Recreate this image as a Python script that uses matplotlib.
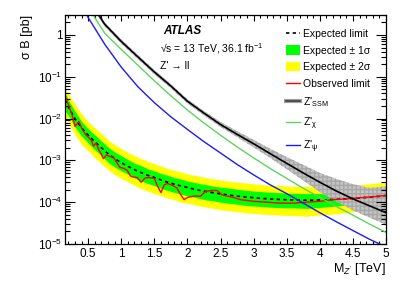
import matplotlib
matplotlib.use("Agg")
import matplotlib.pyplot as plt
from matplotlib.lines import Line2D
from matplotlib.patches import Patch
from matplotlib.ticker import MultipleLocator, LogLocator, NullFormatter

plt.rcParams['font.family'] = ['Liberation Sans', 'DejaVu Sans']
plt.rcParams['mathtext.fontset'] = 'custom'
plt.rcParams['mathtext.rm'] = 'Liberation Sans'
plt.rcParams['mathtext.it'] = 'Liberation Sans:italic'
plt.rcParams['mathtext.bf'] = 'Liberation Sans:bold'

# expected limit and bands [pb] vs mass [TeV]
mass = [0.15, 0.2, 0.3, 0.4, 0.5, 0.6, 0.7, 0.8, 0.9, 1.0,
        1.1, 1.2, 1.3, 1.4, 1.5, 1.6, 1.7, 1.8, 1.9, 2.0,
        2.1, 2.2, 2.3, 2.4, 2.5, 2.6, 2.7, 2.8, 2.9, 3.0,
        3.1, 3.2, 3.3, 3.4, 3.5, 3.6, 3.7, 3.8, 3.9, 4.0,
        4.1, 4.2, 4.3, 4.4, 4.5, 4.6, 4.7, 4.8, 4.9, 5.0]
expected = [2.8e-2, 1.9e-2, 1.0e-2, 6.0e-3, 4.0e-3, 2.8e-3, 2.0e-3, 1.45e-3, 1.1e-3, 8.8e-4,
            7.2e-4, 6.0e-4, 5.1e-4, 4.4e-4, 3.9e-4, 3.4e-4, 3.0e-4, 2.7e-4, 2.45e-4, 2.25e-4,
            2.05e-4, 1.9e-4, 1.78e-4, 1.67e-4, 1.58e-4, 1.5e-4, 1.43e-4, 1.37e-4, 1.32e-4, 1.28e-4,
            1.24e-4, 1.21e-4, 1.18e-4, 1.16e-4, 1.14e-4, 1.13e-4, 1.12e-4, 1.12e-4, 1.12e-4, 1.13e-4,
            1.14e-4, 1.16e-4, 1.18e-4, 1.2e-4, 1.23e-4, 1.26e-4, 1.3e-4, 1.34e-4, 1.38e-4, 1.45e-4]
minus2 = [1.1e-2, 8.0e-3, 4.2e-3, 2.4e-3, 1.7e-3, 1.15e-3, 8.5e-4, 6.0e-4, 4.6e-4, 3.7e-4,
          3.1e-4, 2.5e-4, 2.1e-4, 1.85e-4, 1.6e-4, 1.45e-4, 1.25e-4, 1.15e-4, 1.0e-4, 9.5e-5,
          8.8e-5, 8.0e-5, 7.5e-5, 7.1e-5, 6.6e-5, 6.3e-5, 6.1e-5, 5.8e-5, 5.5e-5, 5.4e-5,
          5.2e-5, 5.1e-5, 5.0e-5, 4.9e-5, 4.8e-5, 4.8e-5, 4.7e-5, 4.6e-5, 4.8e-5, 4.9e-5,
          5.0e-5, 5.2e-5, 5.4e-5, 5.6e-5, 5.9e-5, 6.2e-5, 6.5e-5, 6.9e-5, 7.3e-5, 7.8e-5]
minus1 = [1.5e-2, 1.2e-2, 6.3e-3, 3.8e-3, 2.6e-3, 1.8e-3, 1.3e-3, 9.0e-4, 7.0e-4, 5.6e-4,
          4.7e-4, 3.8e-4, 3.2e-4, 2.8e-4, 2.5e-4, 2.15e-4, 1.9e-4, 1.72e-4, 1.55e-4, 1.42e-4,
          1.32e-4, 1.2e-4, 1.12e-4, 1.07e-4, 1.0e-4, 9.5e-5, 9.1e-5, 8.7e-5, 8.3e-5, 8.1e-5,
          7.9e-5, 7.7e-5, 7.5e-5, 7.4e-5, 7.3e-5, 7.3e-5, 7.2e-5, 7.1e-5, 7.3e-5, 7.5e-5,
          7.7e-5, 8.0e-5, 8.3e-5, 8.6e-5, 9.0e-5, 9.4e-5, 9.8e-5, 1.03e-4, 1.07e-4, 1.12e-4]
plus1 = [4.2e-2, 2.8e-2, 1.5e-2, 8.6e-3, 5.7e-3, 4.1e-3, 2.9e-3, 2.1e-3, 1.6e-3, 1.3e-3,
         1.05e-3, 8.6e-4, 7.5e-4, 6.3e-4, 5.6e-4, 4.9e-4, 4.4e-4, 3.9e-4, 3.6e-4, 3.2e-4,
         3.0e-4, 2.75e-4, 2.6e-4, 2.4e-4, 2.3e-4, 2.2e-4, 2.1e-4, 2.0e-4, 1.92e-4, 1.85e-4,
         1.8e-4, 1.75e-4, 1.72e-4, 1.68e-4, 1.65e-4, 1.63e-4, 1.62e-4, 1.6e-4, 1.62e-4, 1.6e-4,
         1.6e-4, 1.62e-4, 1.64e-4, 1.66e-4, 1.7e-4, 1.74e-4, 1.8e-4, 1.85e-4, 1.9e-4, 2.0e-4]
plus2 = [5.5e-2, 4.0e-2, 2.2e-2, 1.3e-2, 8.5e-3, 6.0e-3, 4.4e-3, 3.1e-3, 2.4e-3, 1.9e-3,
         1.55e-3, 1.3e-3, 1.1e-3, 9.6e-4, 8.3e-4, 7.4e-4, 6.4e-4, 5.8e-4, 5.3e-4, 4.8e-4,
         4.4e-4, 4.1e-4, 3.8e-4, 3.6e-4, 3.4e-4, 3.2e-4, 3.1e-4, 2.95e-4, 2.85e-4, 2.75e-4,
         2.65e-4, 2.6e-4, 2.55e-4, 2.5e-4, 2.45e-4, 2.4e-4, 2.4e-4, 2.4e-4, 2.4e-4, 2.4e-4,
         2.42e-4, 2.45e-4, 2.5e-4, 2.55e-4, 2.6e-4, 2.65e-4, 2.7e-4, 2.8e-4, 2.9e-4, 3.0e-4]

# observed limit
obs_mass = [0.15, 0.18, 0.2, 0.23, 0.26, 0.28, 0.3, 0.33, 0.36, 0.4,
            0.43, 0.46, 0.5, 0.55, 0.58, 0.62, 0.66, 0.7, 0.73, 0.78,
            0.82, 0.88, 0.93, 0.98, 1.03, 1.09, 1.14, 1.18, 1.24, 1.3,
            1.36, 1.42, 1.5, 1.55, 1.6, 1.65, 1.7, 1.78, 1.84, 1.9,
            1.95, 2.0, 2.1, 2.2, 2.27, 2.35, 2.45, 2.52, 2.6, 2.7,
            2.8, 2.9, 3.0, 3.2, 3.4, 3.6, 3.8, 4.0, 4.2, 4.4,
            4.6, 4.8, 5.0]
observed = [3.6e-2, 2.6e-2, 2.2e-2, 1.6e-2, 1.2e-2, 9.0e-3, 6.5e-3, 7.5e-3, 8.5e-3, 6.0e-3,
            5.0e-3, 4.2e-3, 3.6e-3, 3.0e-3, 2.2e-3, 2.6e-3, 1.8e-3, 1.4e-3, 1.1e-3, 1.35e-3,
            1.25e-3, 1.2e-3, 9.0e-4, 6.8e-4, 6.5e-4, 5.8e-4, 4.2e-4, 4.0e-4, 3.9e-4, 3.0e-4,
            3.8e-4, 3.9e-4, 3.7e-4, 2.4e-4, 1.7e-4, 2.6e-4, 2.8e-4, 2.5e-4, 2.2e-4, 1.5e-4,
            1.15e-4, 1.3e-4, 1.4e-4, 1.4e-4, 1.8e-4, 1.9e-4, 1.9e-4, 1.5e-4, 1.4e-4, 1.3e-4,
            1.15e-4, 1.1e-4, 1.05e-4, 1.0e-4, 9.5e-5, 9.5e-5, 1.0e-4, 1.05e-4, 1.15e-4, 1.2e-4,
            1.28e-4, 1.35e-4, 1.45e-4]

# theory curves
th_mass = [0.45, 0.5, 0.6, 0.75, 1.0, 1.25, 1.5, 1.75, 2.0, 2.25,
           2.5, 2.75, 3.0, 3.25, 3.5, 3.75, 4.0, 4.25, 4.5, 4.75, 5.0]
ssm = [10.0, 7.7, 4.2, 1.8, 0.7, 0.3, 0.13, 0.06, 0.026, 0.0135,
       7.2e-3, 4.2e-3, 2.5e-3, 1.45e-3, 8.5e-4, 5.0e-4, 3.0e-4, 1.85e-4, 1.2e-4, 8.2e-5, 5.6e-5]
ssm_hi = [11.2, 8.6, 4.7, 2.0, 0.78, 0.335, 0.145, 0.067, 0.029, 0.0152,
          8.3e-3, 5.0e-3, 3.1e-3, 1.9e-3, 1.2e-3, 7.8e-4, 5.0e-4, 3.6e-4, 2.7e-4, 2.2e-4, 2.4e-4]
ssm_lo = [8.9, 6.9, 3.75, 1.6, 0.62, 0.265, 0.115, 0.053, 0.023, 0.0119,
          6.3e-3, 3.6e-3, 2.05e-3, 1.15e-3, 6.2e-4, 3.3e-4, 1.75e-4, 1.05e-4, 6.4e-5, 4.3e-5, 2.9e-5]
chi = [7.5, 5.0, 2.6, 1.1, 0.45, 0.19, 0.08, 0.035, 0.016, 7.8e-3,
       4.0e-3, 2.1e-3, 1.15e-3, 6.4e-4, 3.7e-4, 2.15e-4, 1.3e-4, 7.9e-5, 4.9e-5, 3.0e-5, 1.9e-5]
psi = [3.8, 2.6, 1.45, 0.6, 0.17, 0.058, 0.024, 0.011, 5.5e-3, 2.8e-3,
       1.5e-3, 8.0e-4, 4.5e-4, 2.6e-4, 1.6e-4, 9.5e-5, 5.6e-5, 3.4e-5, 2.1e-5, 1.3e-5, 8.5e-6]

fig = plt.figure(figsize=(4.07, 2.92), dpi=100)
ax = fig.add_axes([0.1597, 0.1644, 0.7887, 0.7842])

ax.fill_between(mass, minus2, plus2, color='#ffff00', lw=0)
ax.fill_between(mass, minus1, plus1, color='#00ff00', lw=0)
ax.plot(mass, expected, color='black', ls=(0, (2, 2)), lw=1.2)
ax.plot(obs_mass, observed, color='#ff0000', lw=1.0)

ax.fill_between(th_mass, ssm_lo, ssm_hi, facecolor='#c4c4c4', edgecolor='#a8a8a8',
                hatch='++++', lw=0)
ax.plot(th_mass, ssm, color='black', lw=1.2)
ax.plot(th_mass, chi, color='#5fd35f', lw=1.0)
ax.plot(th_mass, psi, color='#1a1aff', lw=1.0)

ax.set_yscale('log')
ax.set_xlim(0.15, 5.0)
ax.set_ylim(1e-5, 3.0)

ax.xaxis.set_minor_locator(MultipleLocator(0.1))
ax.yaxis.set_minor_locator(LogLocator(base=10, subs=range(2, 10), numticks=20))
ax.yaxis.set_minor_formatter(NullFormatter())
ax.set_xticks([0.5, 1, 1.5, 2, 2.5, 3, 3.5, 4, 4.5, 5])
ax.set_xticklabels(['0.5', '1', '1.5', '2', '2.5', '3', '3.5', '4', '4.5', '5'])
ax.set_yticks([1e-5, 1e-4, 1e-3, 1e-2, 1e-1, 1])
ax.set_yticklabels(['$10^{-5}$', '$10^{-4}$', '$10^{-3}$', '$10^{-2}$', '$10^{-1}$', '1'])
ax.tick_params(which='both', direction='in', top=True, right=True, labelsize=8.5, width=0.8)
ax.tick_params(axis='x', which='major', length=4.5, pad=3)
ax.tick_params(axis='x', which='minor', length=2.2)
ax.tick_params(axis='y', which='major', length=7, pad=2)
ax.tick_params(axis='y', which='minor', length=3.5)
for s in ax.spines.values():
    s.set_linewidth(0.9)

ax.set_ylabel('σ B [pb]', fontsize=9, loc='top')
ax.yaxis.set_label_coords(-0.1, 1.0)
ax.set_xlabel("M$_{Z'}$ [TeV]", fontsize=9, loc='right')
ax.xaxis.set_label_coords(1.0, -0.075)

ax.text(0.305, 0.93, 'ATLAS', transform=ax.transAxes, fontsize=8.5,
        fontweight='bold', fontstyle='italic', va='center')
ax.text(0.296, 0.852, '√s = 13 TeV, 36.1 fb$^{-1}$', transform=ax.transAxes,
        fontsize=7.5, va='center')
ax.text(0.296, 0.777, "Z' → ll", transform=ax.transAxes, fontsize=7.5, va='center')

handles = [
    Line2D([], [], color='black', ls=(0, (2, 2)), lw=1.2),
    Patch(facecolor='#00ff00', edgecolor='none'),
    Patch(facecolor='#ffff00', edgecolor='none'),
    Line2D([], [], color='#ff0000', lw=1.0),
    (Line2D([], [], color='#a0a0a0', lw=3.0), Line2D([], [], color='#404040', lw=1.2)),
    Line2D([], [], color='#5fd35f', lw=1.0),
    Line2D([], [], color='#1a1aff', lw=1.0),
]
labels = ['Expected limit', 'Expected ± 1σ', 'Expected ± 2σ', 'Observed limit',
          "Z'$_{\\rm SSM}$", "Z'$_{\\mathrm{χ}}$", "Z'$_{\\mathrm{ψ}}$"]
ax.legend(handles, labels, loc='upper left', bbox_to_anchor=(0.69, 0.94),
          frameon=False, fontsize=7.5, handlelength=1.25, handleheight=1.0,
          handletextpad=0.35, labelspacing=0.62, borderpad=0, borderaxespad=0)

fig.savefig('out.png', dpi=100)
